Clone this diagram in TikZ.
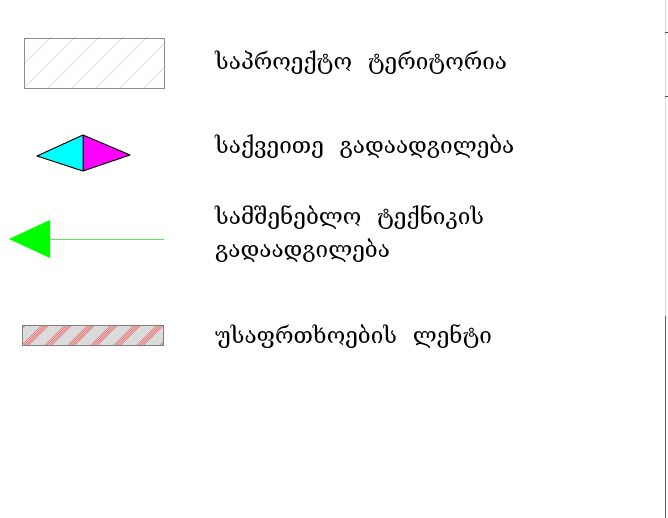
\documentclass[tikz,border=0pt]{standalone}
\usepackage{fontspec}
\newfontfamily\geo[WordSpace={2.2,0,0}]{DejaVu Serif}
\definecolor{cy}{RGB}{0,255,255}
\definecolor{mg}{RGB}{255,0,255}
\definecolor{gr}{RGB}{0,255,0}
\definecolor{lgr}{RGB}{90,235,90}
\definecolor{pk}{RGB}{240,200,215}
\definecolor{tred}{RGB}{235,110,110}
\begin{document}
\begin{tikzpicture}[x=1pt,y=-1pt,
  lbl/.style={anchor=west,inner sep=0pt,font=\geo\fontsize{22.5}{33}\selectfont,align=left}]
\useasboundingbox (0,0) rectangle (668,518);
\fill[white] (0,0) rectangle (668,518);
% right frame line
\draw[black!15,line width=1pt] (665,0) -- (665,316);
\draw[black!65,line width=1pt] (665,316) -- (665,518);
\draw[black!70,line width=1pt] (665,33) -- (668,33);
\draw[black!70,line width=1pt] (665,97) -- (668,97);
% 1: project territory
\begin{scope}
\clip (24,38) rectangle (164,88);
\foreach \i in {-2,...,8} {
  \draw[pk,line width=0.7pt] (24+\i*24,88) -- ++(60,-60);
}
\end{scope}
\draw[black!45,line width=0.8pt] (24,38) rectangle (164,88);
\node[lbl] (t1) at (215,63) {საპროექტო ტერიტორია};
% 2: pedestrian
\coordinate (dl) at (37,156);
\coordinate (dt) at (83,135);
\coordinate (dr) at (130,155);
\coordinate (db) at (83,171);
\fill[cy] (dl) -- (dt) -- (db) -- cycle;
\fill[mg] (dt) -- (dr) -- (db) -- cycle;
\draw[black,line width=1pt,line join=round] (dl) -- (dt) -- (dr) -- (db) -- cycle (dt) -- (db);
\node[lbl] (t2) at (215,147) {საქვეითე გადაადგილება};
% 3: machinery
\coordinate (ae) at (164,239);
\coordinate (ab) at (50,239);
\draw[lgr,line width=0.9pt] (ae) -- (ab);
\fill[gr] (9,239) -- (50,220) -- (50,258) -- cycle;
\node[lbl] (t3) at (215,234) {სამშენებლო ტექნიკის\\გადაადგილება};
% 4: safety tape
\fill[black!14] (22,325) rectangle (163,345);
\begin{scope}
\clip (22,325) rectangle (163,345);
\foreach \g in {-2,...,7} {
  \foreach \k in {0,1,2,3} {
    \draw[tred,line width=0.65pt] (22+\g*23+\k*2.2,345) -- ++(22,-22);
  }
}
\end{scope}
\draw[black!50,line width=0.8pt] (22,325) rectangle (163,345);
\node[lbl] (t4) at (215,337) {უსაფრთხოების ლენტი};
\end{tikzpicture}
\end{document}
